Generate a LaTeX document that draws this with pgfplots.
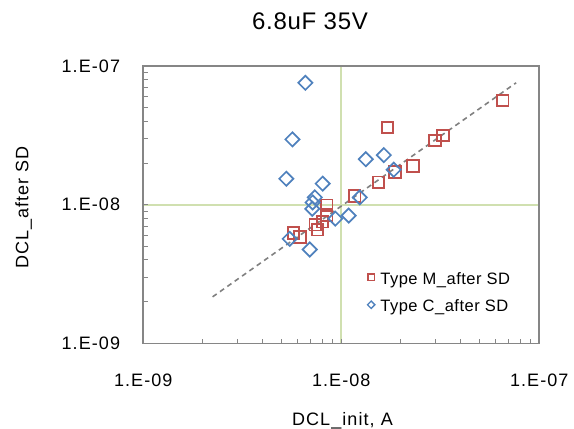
\documentclass[border=0pt]{standalone}
\usepackage{pgfplots}
\pgfplotsset{compat=1.18}
\usepackage{fontspec}
\setmainfont{Liberation Sans}[LetterSpace=6]
\newfontfamily\titlefont{Liberation Sans}[LetterSpace=3]
\definecolor{mred}{RGB}{192,80,77}
\definecolor{cblue}{RGB}{79,129,189}
\definecolor{axgray}{RGB}{134,134,134}
\definecolor{gridgreen}{RGB}{208,224,176}
\definecolor{trend}{RGB}{128,128,128}
\begin{document}
\begin{tikzpicture}[x=1pt,y=1pt]
\path (0,0) rectangle (574,429);
\begin{axis}[
  at={(143.3pt,85.5pt)}, anchor=south west,
  width=396pt, height=277.5pt, scale only axis,
  xmode=log, ymode=log,
  xmin=1e-9, xmax=1e-7, ymin=1e-9, ymax=1e-7,
  xtick={1e-9,1e-8,1e-7}, ytick={1e-9,1e-8,1e-7},
  xticklabels={1.E-09,1.E-08,1.E-07},
  yticklabels={1.E-09,1.E-08,1.E-07},
  minor xtick={2e-9,3e-9,4e-9,5e-9,6e-9,7e-9,8e-9,9e-9,2e-8,3e-8,4e-8,5e-8,6e-8,7e-8,8e-8,9e-8},
  minor ytick={2e-9,3e-9,4e-9,5e-9,6e-9,7e-9,8e-9,9e-9,2e-8,3e-8,4e-8,5e-8,6e-8,7e-8,8e-8,9e-8},
  /pgf/number format/assume math mode=true,
  tick pos=left, tick align=inside,
  major tick length=4.5pt, minor tick length=4.5pt,
  every tick/.style={axgray, line width=1pt},
  axis line style={axgray, line width=1.8pt},
  xmajorgrids, ymajorgrids,
  major grid style={gridgreen, line width=1.6pt},
  ticklabel style={font=\fontsize{18}{21}\selectfont, inner sep=0pt},
  xticklabel style={anchor=base, yshift=-43pt},
  yticklabel style={anchor=east, xshift=-23pt},
  title={6.8uF 35V},
  title style={font=\titlefont\fontsize{24}{28}\selectfont, at={(axis description cs:0.421,1.1117)}, anchor=base, inner sep=0pt},
  xlabel={DCL\_init, A},
  ylabel={DCL\_after SD},
  label style={font=\fontsize{18}{21}\selectfont, inner sep=0pt},
  xlabel style={at={(axis description cs:0.503,-0.2937)}, anchor=base},
  ylabel style={at={(axis description cs:-0.2904,0.490)}, anchor=base},
  legend style={draw=none, fill=none, at={(axis description cs:0.564,0.258)}, anchor=north west,
    font=\titlefont\fontsize{16.5}{19}\selectfont, row sep=14pt, inner sep=0pt,
    nodes={inner sep=0pt}},
  legend cell align=left,
]
\addplot[only marks, mark=square, mark size=5.8pt, mark options={draw=mred, line width=1.8pt},
  legend image code/.code={\draw[mred, line width=1.3pt] (-3.2pt,-1.7pt) rectangle (3.2pt,4.7pt); \path (0pt,-5pt) (9pt,5pt);}]
coordinates {
(6.53e-8,5.65e-8) (1.71e-8,3.60e-8) (3.26e-8,3.16e-8) (2.97e-8,2.91e-8)
(2.30e-8,1.90e-8) (1.87e-8,1.72e-8) (1.54e-8,1.45e-8) (1.17e-8,1.16e-8)
(8.44e-9,9.90e-9) (8.44e-9,8.46e-9) (8.03e-9,7.56e-9) (7.40e-9,7.19e-9)
(7.58e-9,6.61e-9) (5.74e-9,6.25e-9) (6.19e-9,5.85e-9)
};
\addlegendentry{Type M\_after SD}
\addplot[only marks, mark=square, mark size=5pt, mark options={draw=cblue, line width=1.7pt, rotate=45},
  legend image code/.code={\draw[cblue, line width=1.3pt] (0pt,-2.2pt) -- (3.7pt,1.5pt) -- (0pt,5.2pt) -- (-3.7pt,1.5pt) -- cycle; \path (0pt,-5pt) (9pt,5pt);}]
coordinates {
(6.59e-9,7.57e-8) (5.67e-9,2.96e-8) (5.28e-9,1.54e-8) (8.06e-9,1.42e-8)
(1.33e-8,2.13e-8) (1.64e-8,2.28e-8) (1.84e-8,1.79e-8) (1.24e-8,1.13e-8)
(1.09e-8,8.36e-9) (9.33e-9,7.95e-9) (7.35e-9,1.13e-8) (7.17e-9,1.04e-8)
(7.14e-9,9.35e-9) (5.49e-9,5.68e-9) (6.93e-9,4.76e-9)
};
\addlegendentry{Type C\_after SD}
\addplot[trend, line width=1.6pt, dash pattern=on 5pt off 4pt, forget plot]
coordinates {(2.24e-9,2.17e-9) (7.64e-8,7.57e-8)};
\end{axis}
\end{tikzpicture}
\end{document}
